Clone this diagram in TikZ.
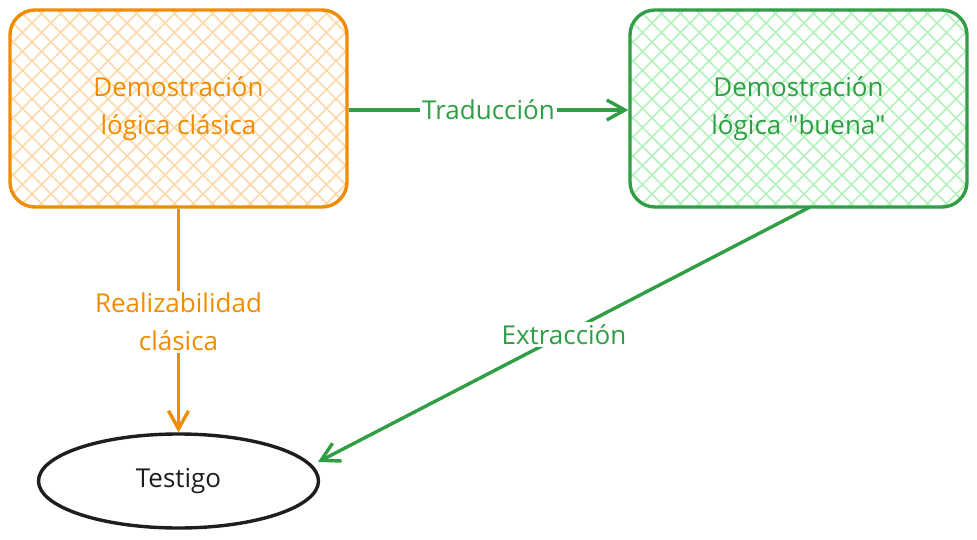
\documentclass[tikz,border=0pt]{standalone}
\usepackage{fontspec}
\setmainfont{Open Sans}[Ligatures=TeXOff]
\usetikzlibrary{arrows.meta,shapes.geometric}
\definecolor{orng}{HTML}{F08C00}
\definecolor{orngl}{HTML}{FFD8A8}
\definecolor{grn}{HTML}{2F9E44}
\definecolor{grnl}{HTML}{B2F2BB}
\definecolor{ink}{HTML}{1E1E1E}
\tikzset{
  txt/.style={font=\fontsize{26}{38}\selectfont, align=center, inner sep=0pt},
  lbl/.style={font=\fontsize{26}{38}\selectfont, align=center, fill=white, inner sep=2pt},
  arr/.style={line width=3.4pt, -{Straight Barb[length=18pt,width=20pt,line width=3.4pt]}},
  hatchln/.style={line width=1.6pt},
}
\begin{document}
\begin{tikzpicture}[x=1pt,y=-1pt]
\useasboundingbox (0,0) rectangle (977,540);
% hatches
\begin{scope}
\clip[rounded corners=25pt] (10,10) rectangle (347,207);
\foreach \i in {-200,-181,...,360} {
  \draw[orngl,hatchln] (10+\i,10) -- ++(197,197);
  \draw[orngl,hatchln] (10+\i,207) -- ++(197,-197);
}
\end{scope}
\begin{scope}
\clip[rounded corners=25pt] (630,10) rectangle (967,207);
\foreach \i in {-200,-181,...,360} {
  \draw[grnl,hatchln] (630+\i,10) -- ++(197,197);
  \draw[grnl,hatchln] (630+\i,207) -- ++(197,-197);
}
\end{scope}
\node[draw=orng, line width=3.4pt, rounded corners=25pt, minimum width=337pt, minimum height=197pt] (a) at (178.5,108.5) {};
\node[txt, text=orng] (at) at (178.5,108.5) {Demostración\\lógica clásica};
\node[draw=grn, line width=3.4pt, rounded corners=25pt, minimum width=337pt, minimum height=197pt] (b) at (798.5,108.5) {};
\node[txt, text=grn] (bt) at (798.5,108.5) {Demostración\\lógica "buena"};
\node[draw=ink, line width=3.4pt, ellipse, minimum width=280pt, minimum height=94pt, font=\fontsize{26}{38}\selectfont, text=ink] (c) at (178.5,481) {Testigo};
\coordinate (bs) at (810,207);
\coordinate (ce) at (318,462);
\draw[arr, grn] (a.east |- 0,110) -- node[lbl, text=grn] (l1) {Traducción} (b.west |- 0,110);
\draw[arr, orng] (a.south) -- node[lbl, text=orng, pos=0.505] (l2) {Realizabilidad\\clásica} (c.north);
\draw[arr, grn] (bs) -- node[lbl, text=grn, pos=0.5] (l3) {Extracción} (ce);
\end{tikzpicture}
\end{document}
